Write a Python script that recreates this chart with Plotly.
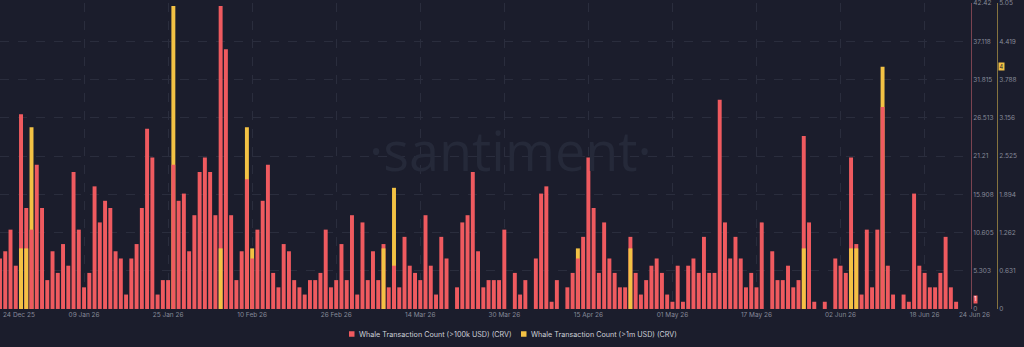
import pandas as pd
import plotly.graph_objects as go

# ---------------- data ----------------
start_date = "2025-12-24"
n_days = 183

whale_100k = [
    7, 8, 11, 6, 27, 14, 11, 20, 14, 4,
    8, 5, 9, 6, 19, 11, 3, 5, 17, 12,
    15, 14, 8, 7, 2, 7, 9, 14, 25, 21,
    2, 4, 4, 20, 15, 16, 8, 13, 19, 21,
    19, 13, 42, 36, 13, 4, 8, 18, 7, 11,
    15, 20, 5, 3, 9, 8, 4, 3, 2, 4,
    4, 5, 11, 3, 4, 9, 4, 13, 2, 12,
    4, 8, 4, 9, 3, 6, 3, 10, 6, 5,
    4, 13, 6, 2, 10, 7, 0, 3, 12, 13,
    19, 8, 3, 4, 4, 4, 11, 0, 5, 2,
    4, 0, 7, 16, 17, 1, 4, 0, 3, 5,
    7, 10, 21, 14, 5, 12, 7, 5, 3, 3,
    10, 5, 2, 4, 6, 7, 5, 2, 1, 6,
    1, 6, 7, 5, 10, 5, 5, 29, 12, 7,
    10, 7, 3, 5, 3, 12, 0, 8, 4, 4,
    6, 3, 4, 24, 12, 1, 0, 1, 0, 7,
    6, 5, 21, 9, 2, 11, 3, 11, 28, 6,
    2, 0, 2, 1, 16, 6, 5, 3, 3, 5,
    10, 3, 1,
]

# >1m whale transactions: day index -> count (all other days 0)
whale_1m_days = [4, 5, 6, 33, 42, 47, 48, 73, 75, 110, 120, 153, 162, 163, 168]
whale_1m_counts = [1, 1, 3, 5, 1, 3, 1, 1, 2, 1, 1, 1, 1, 1, 4]

y1_tickvals = [0, 5.303, 10.605, 15.908, 21.21, 26.513, 31.815, 37.118, 42.42]
y1_ticktext = ["0", "5.303", "10.605", "15.908", "21.21", "26.513", "31.815", "37.118", "42.42"]
y2_tickvals = [0, 0.631, 1.262, 1.894, 2.525, 3.156, 3.788, 4.419, 5.05]
y2_ticktext = ["0", "0.631", "1.262", "1.894", "2.525", "3.156", "3.788", "4.419", "5.05"]

x_tickvals = ["2026-01-09", "2026-01-25", "2026-02-10", "2026-02-26", "2026-03-14",
              "2026-03-30", "2026-04-15", "2026-05-01", "2026-05-17", "2026-06-02", "2026-06-18"]
x_ticktext = ["09 Jan 26", "25 Jan 26", "10 Feb 26", "26 Feb 26", "14 Mar 26",
              "30 Mar 26", "15 Apr 26", "01 May 26", "17 May 26", "02 Jun 26", "18 Jun 26"]
edge_labels = [("2025-12-24", "24 Dec 25"), ("2026-06-24", "24 Jun 26")]

series_names = ["Whale Transaction Count (>100k USD) (CRV)", "Whale Transaction Count (>1m USD) (CRV)"]

# ---------------- styling ----------------
W, H = 1024, 347
BG = "#1b1d2c"
RED = "#ef5a5f"
YELLOW = "#f3c244"
Y1_MAX = 42.42
Y2_MAX = 5.05
PLOT_RIGHT = 971
PLOT_TOP = 3
PLOT_BOTTOM = 309
PAD1 = 0.004
PAD2 = 0.0005

dates = pd.date_range(start_date, periods=n_days, freq="D")
whale_1m = [0] * n_days
for d, c in zip(whale_1m_days, whale_1m_counts):
    whale_1m[d] = c

# shorter bar drawn in front of the taller one
red_back, red_front, yel = [], [], []
for r, yv in zip(whale_100k, whale_1m):
    yel.append(yv if yv > 0 else None)
    if yv > 0 and yv / Y2_MAX > r / Y1_MAX:
        red_back.append(None)
        red_front.append(r if r > 0 else None)
    else:
        red_back.append(r if r > 0 else None)
        red_front.append(None)

bar_w = 0.75 * 86400000

fig = go.Figure()
fig.add_trace(go.Bar(x=dates, y=red_back, marker=dict(color=RED, line=dict(width=0)),
                     width=bar_w, yaxis="y", name=series_names[0], showlegend=False,
                     hoverinfo="x+y"))
fig.add_trace(go.Bar(x=dates, y=yel, marker=dict(color=YELLOW, line=dict(width=0)),
                     width=bar_w, yaxis="y2", name=series_names[1], showlegend=False,
                     hoverinfo="x+y"))
fig.add_trace(go.Bar(x=dates, y=red_front, marker=dict(color=RED, line=dict(width=0)),
                     width=bar_w, yaxis="y3", name=series_names[0], showlegend=False,
                     hoverinfo="x+y"))

ydom = [1 - PLOT_BOTTOM / H, 1 - PLOT_TOP / H]
tick_font = dict(family="Inter", size=6.5, color="#868a99")

fig.update_layout(
    width=W, height=H,
    margin=dict(l=0, r=0, t=0, b=0),
    paper_bgcolor=BG, plot_bgcolor=BG,
    barmode="overlay",
    showlegend=False,
    xaxis=dict(
        domain=[0, PLOT_RIGHT / W],
        type="date",
        range=["2025-12-24 00:00", "2026-06-26 20:00"],
        tickmode="array", tickvals=x_tickvals, ticktext=x_ticktext,
        tickfont=tick_font, ticks="",
        showgrid=True, gridcolor="#2a2d3d", griddash="dash", gridwidth=1,
        showline=False, zeroline=False, fixedrange=True, automargin=False,
    ),
    yaxis=dict(
        domain=ydom, range=[-PAD1, Y1_MAX + PAD1], side="right", anchor="x",
        tickmode="array", tickvals=y1_tickvals, ticktext=y1_ticktext,
        tickfont=tick_font, ticks="", ticklabeloverflow="allow",
        showgrid=True, gridcolor="#2a2d3d", griddash="dash",
        showline=True, linecolor="#7b4350", linewidth=1,
        zeroline=False, automargin=False,
    ),
    yaxis2=dict(
        range=[-PAD2, Y2_MAX + PAD2], overlaying="y", side="right", anchor="free",
        position=997 / W,
        tickmode="array", tickvals=y2_tickvals, ticktext=y2_ticktext,
        tickfont=tick_font, ticks="", ticklabeloverflow="allow",
        showgrid=False, showline=True, linecolor="#85733f", linewidth=1,
        zeroline=False, automargin=False,
    ),
    yaxis3=dict(
        range=[-PAD1, Y1_MAX + PAD1], overlaying="y", side="right", anchor="x",
        visible=False, showgrid=False, zeroline=False,
    ),
)

# watermark
fig.add_annotation(text="·santiment·", xref="paper", yref="paper",
                   x=510 / W, y=1 - 150 / H, showarrow=False,
                   font=dict(family="Open Sans", size=54, color="#252939"),
                   xanchor="center", yanchor="middle")

# edge date labels
for d, t in edge_labels:
    fig.add_annotation(text=t, x=d, xref="x", yref="paper", y=1 - 315 / H,
                       showarrow=False, xanchor="left", yanchor="middle",
                       xshift=1, font=tick_font)

# latest-value badges
last_red = [v for v in whale_100k if v > 0][-1]
last_yel = [v for v in whale_1m if v > 0][-1]
fig.add_annotation(text=str(last_red), xref="paper", yref="y", x=975.5 / W, y=last_red,
                   showarrow=False, bgcolor=RED, borderpad=0.3, yshift=2.5,
                   font=dict(family="Inter", size=5.5, color="#ffffff"),
                   xanchor="center", yanchor="middle")
fig.add_annotation(text=str(last_yel), xref="paper", yref="y2", x=1001.5 / W, y=last_yel,
                   showarrow=False, bgcolor=YELLOW, borderpad=0.5,
                   font=dict(family="Inter", size=5.5, color="#1b1d2c"),
                   xanchor="center", yanchor="middle")

# legend (squares + text)
legend_items = [(349, RED, series_names[0]), (521, YELLOW, series_names[1])]
ly = 334
for lx, col, name in legend_items:
    fig.add_shape(type="rect", xref="paper", yref="paper",
                  x0=lx / W, x1=(lx + 5.5) / W, y0=1 - (ly + 2.75) / H, y1=1 - (ly - 2.75) / H,
                  fillcolor=col, line=dict(width=0))
    fig.add_annotation(text=name, xref="paper", yref="paper", x=(lx + 7.5) / W, y=1 - ly / H,
                       showarrow=False, xanchor="left", yanchor="middle",
                       font=dict(family="Inter", size=7.2, color="#cdd0d8"))

fig.write_html("out.html")
